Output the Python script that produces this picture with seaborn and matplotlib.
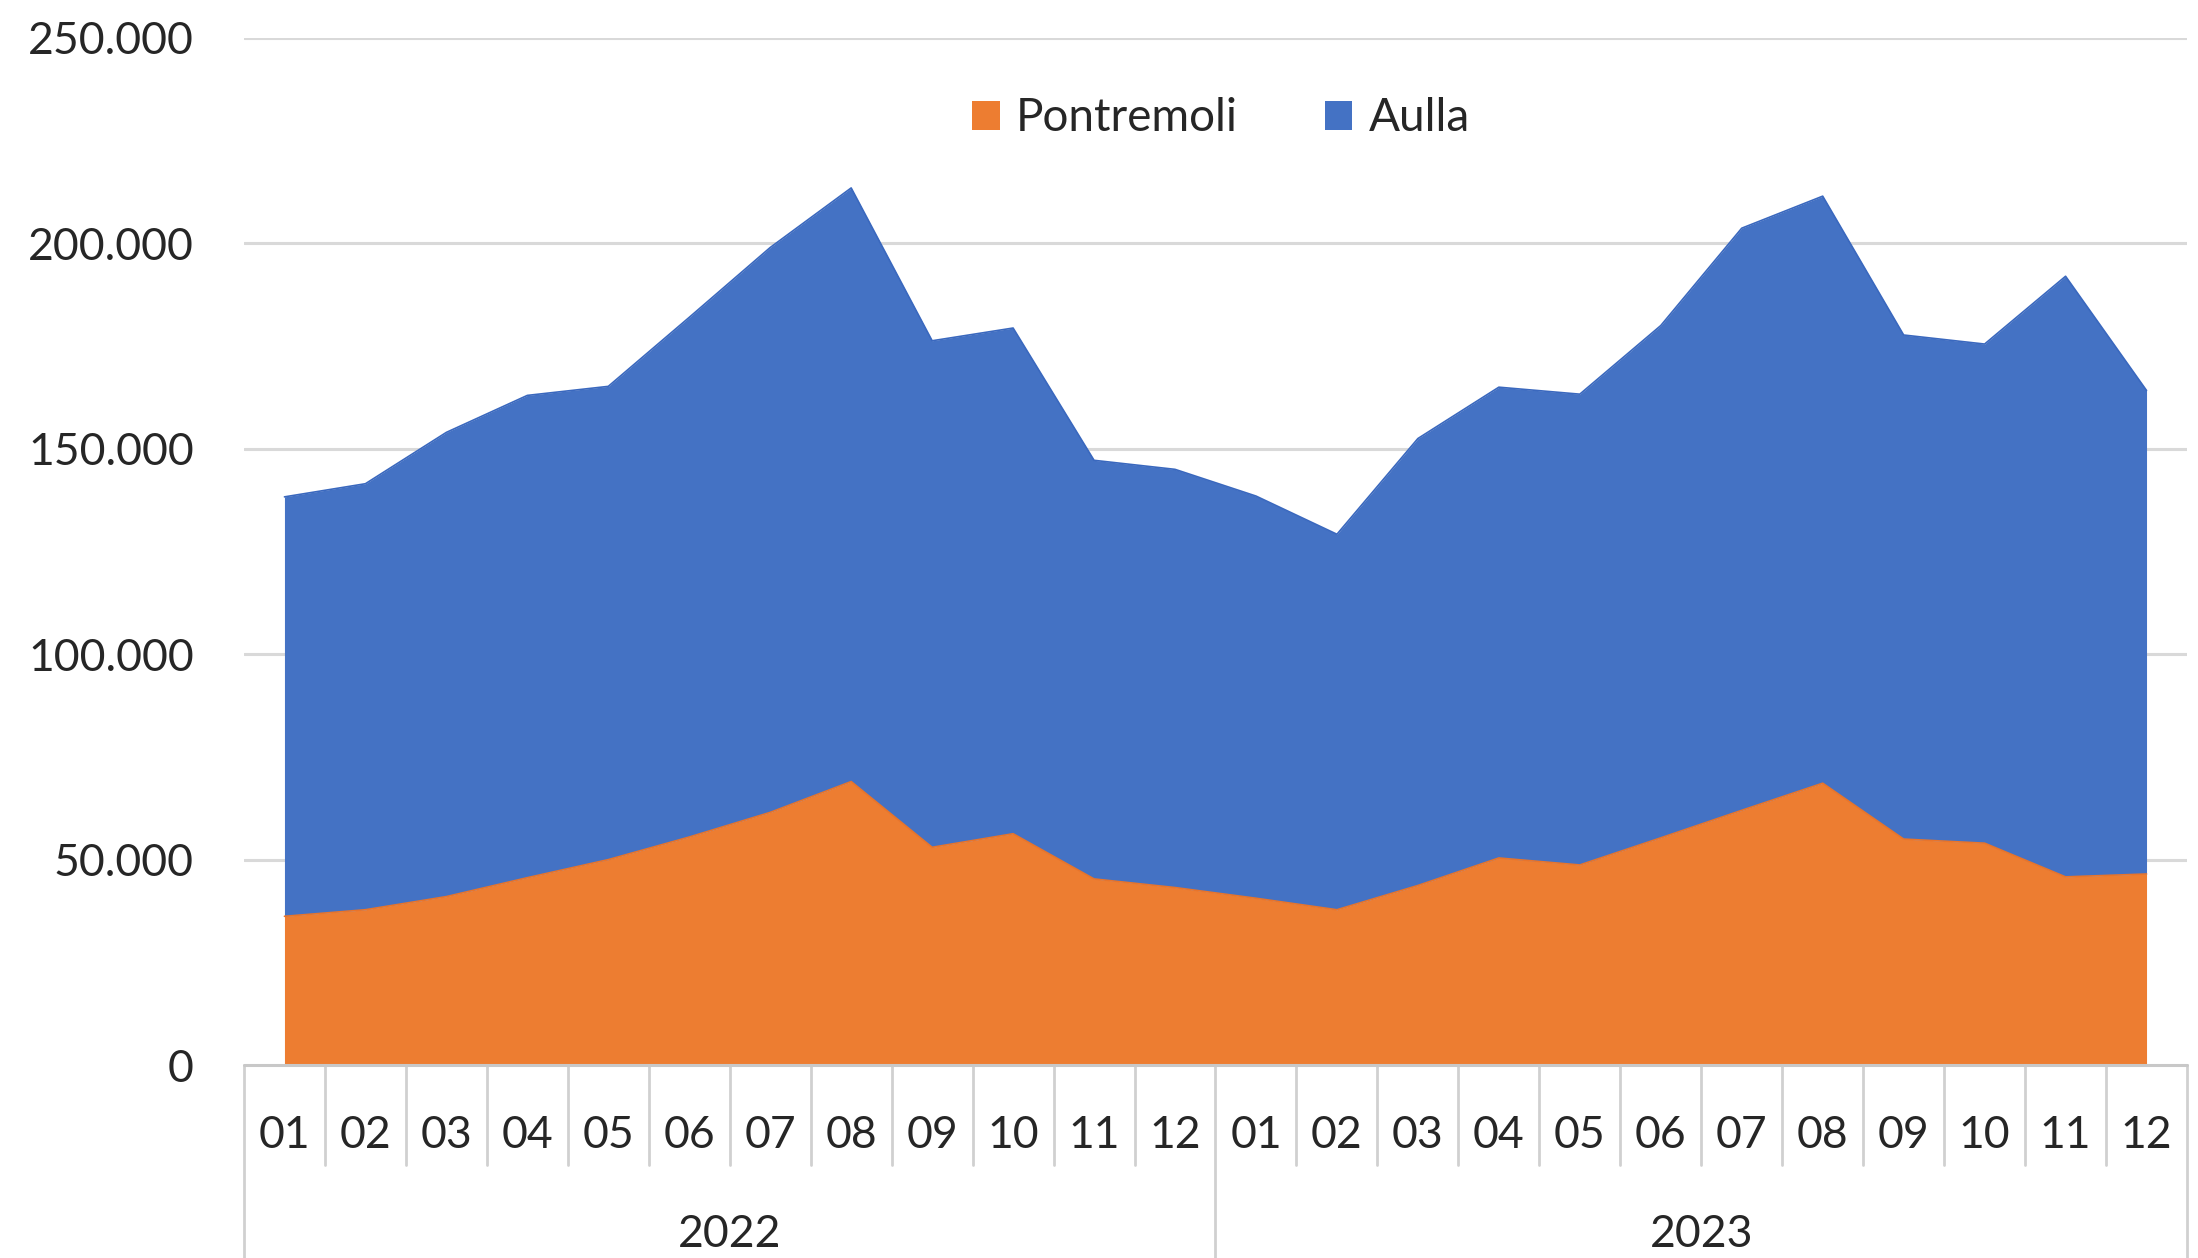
import numpy as np
import pandas as pd
import matplotlib
matplotlib.use("Agg")
import matplotlib.pyplot as plt
import matplotlib.transforms as mtransforms
from matplotlib.patches import Patch
from matplotlib.ticker import FuncFormatter
import seaborn as sns

# --- data (monthly values) ---
years = ["2022", "2023"]
months = ["01", "02", "03", "04", "05", "06", "07", "08", "09", "10", "11", "12"]

pontremoli_2022 = [36200, 37800, 41000, 45600, 50000, 55500, 61500, 69000, 53000, 56300, 45300, 43200]
pontremoli_2023 = [40600, 37800, 43700, 50400, 48700, 55300, 62000, 68600, 55000, 54000, 45800, 46500]
aulla_2022 = [102100, 103700, 113000, 117400, 115200, 126500, 137500, 144500, 123300, 123100, 101900, 101800]
aulla_2023 = [97900, 91400, 108800, 114600, 114600, 124700, 141700, 142900, 122700, 121500, 146200, 117700]

series_names = ["Pontremoli", "Aulla"]
colors = ["#ED7D31", "#4472C4"]
y_ticks = [0, 50000, 100000, 150000, 200000, 250000]

df = pd.DataFrame({
    "year": np.repeat(years, len(months)),
    "month": months * len(years),
    "Pontremoli": pontremoli_2022 + pontremoli_2023,
    "Aulla": aulla_2022 + aulla_2023,
})
df["pos"] = np.arange(len(df))
df["top"] = df["Pontremoli"] + df["Aulla"]

# --- style ---
sns.set_theme(style="white")
plt.rcParams["font.family"] = ["Lato", "DejaVu Sans"]
text_col = "#262626"
grid_col = "#d9d9d9"
fs = 32

fig = plt.figure(figsize=(21.98, 12.58), dpi=100)
ax = fig.add_axes([0.111, 0.1534, 0.884, 0.8164])

# stacked areas
ax.fill_between(df["pos"], 0, df["Pontremoli"], color=colors[0], lw=0, zorder=3)
ax.fill_between(df["pos"], df["Pontremoli"], df["top"], color=colors[1], lw=0, zorder=3)
sns.lineplot(data=df, x="pos", y="Pontremoli", color="#E8742A", lw=1.2, ax=ax, zorder=4)
sns.lineplot(data=df, x="pos", y="top", color="#3A68BE", lw=1.2, ax=ax, zorder=4)

ax.set_xlim(-0.5, len(df) - 0.5)
ax.set_ylim(0, 250000)
ax.set_yticks(y_ticks)
ax.yaxis.set_major_formatter(FuncFormatter(lambda v, p: f"{int(v):,}".replace(",", ".")))
ax.tick_params(axis="y", labelsize=fs, colors=text_col, length=0, pad=36)
ax.set_xticks([])
ax.set_xlabel("")
ax.set_ylabel("")
for s in ax.spines.values():
    s.set_visible(False)
ax.grid(False)
for t in y_ticks[1:]:
    ax.axhline(t, color=grid_col, lw=2.2, zorder=1)
ax.axhline(0, color="#c8c8c8", lw=2.2, zorder=5, clip_on=False)

# two-level category axis (months / years)
trans = mtransforms.blended_transform_factory(ax.transData, ax.transAxes)
for i, row in df.iterrows():
    ax.text(row["pos"], -0.0685, row["month"], transform=trans, ha="center", va="center",
            fontsize=fs, color=text_col)
for k in range(len(df) + 1):
    x = k - 0.5
    low = -0.19 if k % len(months) == 0 else -0.0975
    ax.plot([x, x], [0, low], transform=trans, color="#d0d0d0", lw=2, clip_on=False, zorder=2)
for j, yr in enumerate(years):
    ax.text(j * len(months) + (len(months) - 1) / 2, -0.165, yr, transform=trans,
            ha="center", va="center", fontsize=fs, color=text_col)

# legend
handles = [Patch(facecolor=c, edgecolor="none") for c in colors]
fig.legend(handles, series_names, loc="center", bbox_to_anchor=(0.5555, 0.906), ncol=2,
           frameon=False, fontsize=fs + 1, handlelength=0.6, handleheight=0.6,
           handletextpad=0.35, columnspacing=1.9, labelcolor=text_col)

fig.savefig("out.png", dpi=100)
